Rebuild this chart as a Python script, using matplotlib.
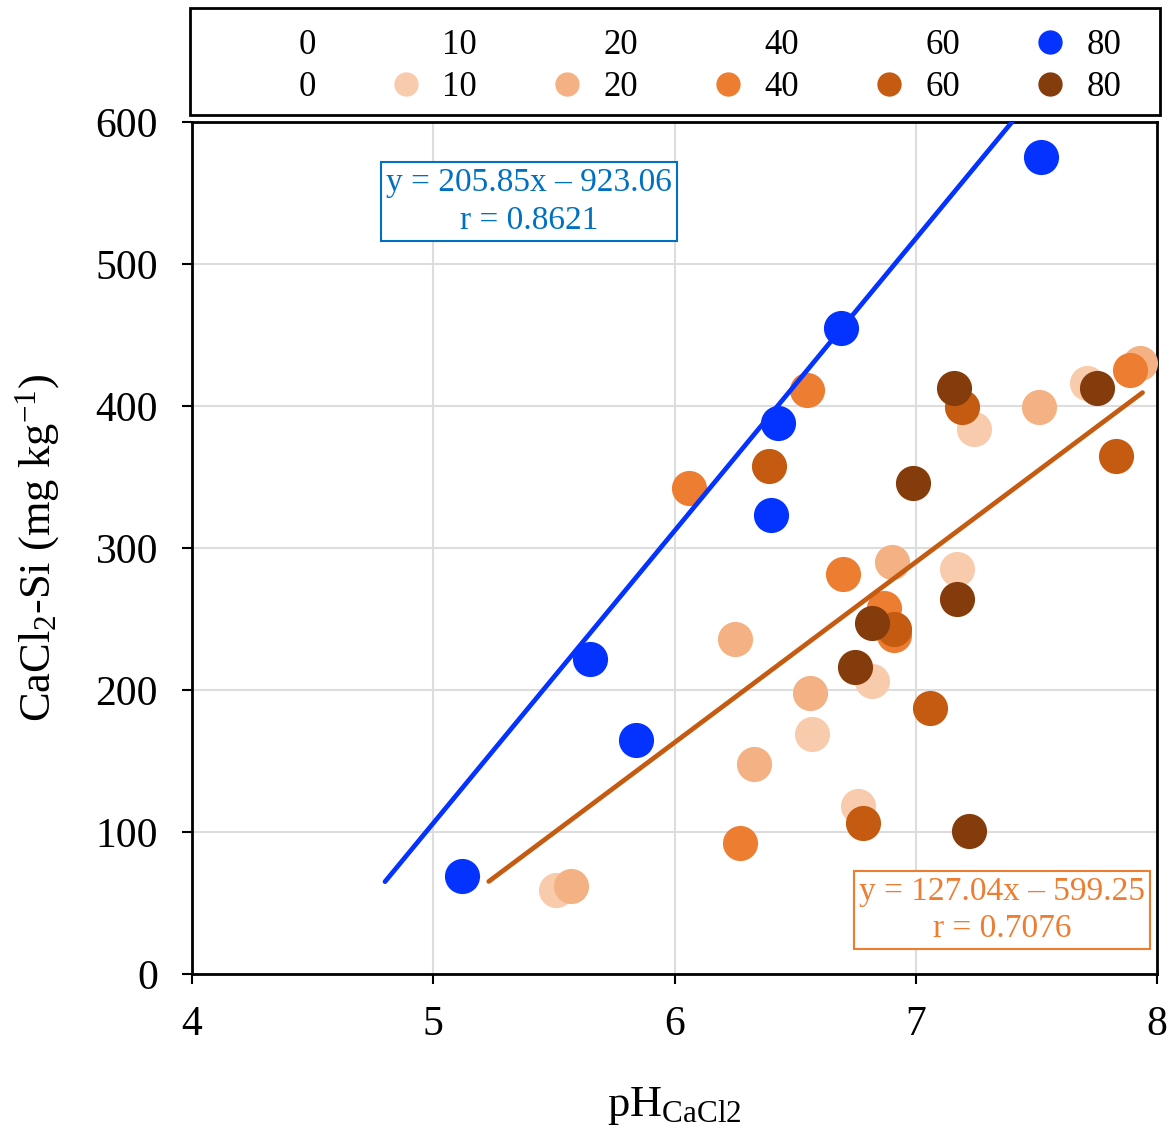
import matplotlib
matplotlib.use("Agg")
import matplotlib.pyplot as plt
from matplotlib.lines import Line2D
from matplotlib.patches import Rectangle
import numpy as np

plt.rcParams['font.family'] = ['Liberation Serif', 'DejaVu Serif']
plt.rcParams['mathtext.fontset'] = 'custom'
plt.rcParams['mathtext.rm'] = 'Liberation Serif'
plt.rcParams['mathtext.it'] = 'Liberation Serif:italic'

# ---- data ----
blue_x = [5.12, 5.65, 5.84, 6.40, 6.43, 6.69, 7.52]
blue_y = [69, 222, 165, 323, 388, 455, 575]

s10_x = [5.51, 6.76, 6.57, 6.82, 7.17, 7.24, 7.71]
s10_y = [59, 118, 169, 206, 285, 384, 416]
s20_x = [5.57, 6.33, 6.56, 6.25, 6.90, 7.51, 7.93]
s20_y = [62, 148, 198, 236, 290, 399, 430]
s40_x = [6.27, 6.87, 6.91, 6.70, 6.06, 6.55, 7.89]
s40_y = [92, 258, 239, 282, 342, 411, 425]
s60_x = [6.78, 7.06, 6.91, 6.39, 7.19, 7.83]
s60_y = [106, 187, 243, 358, 399, 365]
s80_x = [7.22, 6.75, 6.82, 7.17, 6.99, 7.16, 7.75]
s80_y = [101, 216, 247, 264, 346, 413, 413]

legend_labels = ['0', '10', '20', '40', '60', '80']

blue_fit = (205.85, -923.06)
blue_fit_range = (4.80, 7.40)
blue_r = 0.8621
orange_fit = (127.04, -599.25)
orange_fit_range = (5.23, 7.94)
orange_r = 0.7076

xticks = [4, 5, 6, 7, 8]
yticks = [0, 100, 200, 300, 400, 500, 600]

# ---- styling ----
c_blue = '#0433FF'
c_blue_txt = '#0070C0'
c10, c20, c40, c60, c80 = '#F8CBAD', '#F4B183', '#ED7D31', '#C55A11', '#843C0C'
ms = 640

W, H = 1174, 1131
fig = plt.figure(figsize=(W/100, H/100), dpi=100)
ax = fig.add_axes([192/W, 1-974/H, (1157-192)/W, (974-122)/H])

ax.set_xlim(4, 8)
ax.set_ylim(0, 600)
ax.set_xticks(xticks)
ax.set_yticks(yticks)
ax.grid(True, color='#DDDDDD', linewidth=1.5, zorder=0)
ax.set_axisbelow(True)
for sp in ax.spines.values():
    sp.set_linewidth(2)
    sp.set_color('black')
ax.tick_params(labelsize=30, length=7.5, width=1.5, direction='out')
ax.tick_params(axis='y', pad=17)
ax.tick_params(axis='x', pad=15)

ax.scatter(blue_x, blue_y, s=ms, color=c_blue, zorder=3, linewidths=0)
for xs, ys, c in [(s10_x, s10_y, c10), (s20_x, s20_y, c20), (s40_x, s40_y, c40),
                  (s60_x, s60_y, c60), (s80_x, s80_y, c80)]:
    ax.scatter(xs, ys, s=ms, color=c, zorder=3, linewidths=0)

bx = np.array(blue_fit_range)
ax.plot(bx, blue_fit[0]*bx + blue_fit[1], color=c_blue, lw=3.4, zorder=4, solid_capstyle='round')
ox = np.array(orange_fit_range)
ax.plot(ox, orange_fit[0]*ox + orange_fit[1], color=c60, lw=3.4, zorder=4, solid_capstyle='round')

ax.text(5.398, 544, f"y = {blue_fit[0]:.2f}x \u2013 {-blue_fit[1]:.2f}\nr = {blue_r:.4f}",
        fontsize=24, color=c_blue_txt, ha='center', va='center', multialignment='center',
        linespacing=1.3, zorder=5,
        bbox=dict(boxstyle='square,pad=0.15', fc='white', ec=c_blue_txt, lw=1.5))
ax.text(7.357, 45, f"y = {orange_fit[0]:.2f}x \u2013 {-orange_fit[1]:.2f}\nr = {orange_r:.4f}",
        fontsize=24, color=c40, ha='center', va='center', multialignment='center',
        linespacing=1.3, zorder=5,
        bbox=dict(boxstyle='square,pad=0.15', fc='white', ec=c40, lw=1.5))

ax.set_xlabel(r'pH$_{\mathrm{CaCl2}}$', fontsize=32, labelpad=30)
ax.set_ylabel(r'CaCl$_2$-Si (mg kg$^{\mathrm{-1}}$)', fontsize=32, labelpad=24)

# ---- legend: two rows x six columns ----
none = lambda: Line2D([], [], linestyle='none', marker=None)
dot = lambda c: Line2D([], [], linestyle='none', marker='o', markersize=16.5, color=c)
handles, labels = [], []
top_handles = [none(), none(), none(), none(), none(), dot(c_blue)]
bot_handles = [none(), dot(c10), dot(c20), dot(c40), dot(c60), dot(c80)]
for i in range(6):
    handles += [top_handles[i], bot_handles[i]]
    labels += [legend_labels[i], legend_labels[i]]
leg = fig.legend(handles, labels, ncol=6, loc='center',
                 bbox_to_anchor=(683/W, 1-66.5/H),
                 fontsize=25, frameon=False,
                 handletextpad=0.54, handlelength=1.0, borderaxespad=0,
                 labelspacing=0.27, columnspacing=2.1)
fig.patches.append(Rectangle((190/W, 1-115/H), 970/W, 107/H, transform=fig.transFigure,
                             fill=False, edgecolor='black', linewidth=2))

fig.savefig('out.png', dpi=100)
